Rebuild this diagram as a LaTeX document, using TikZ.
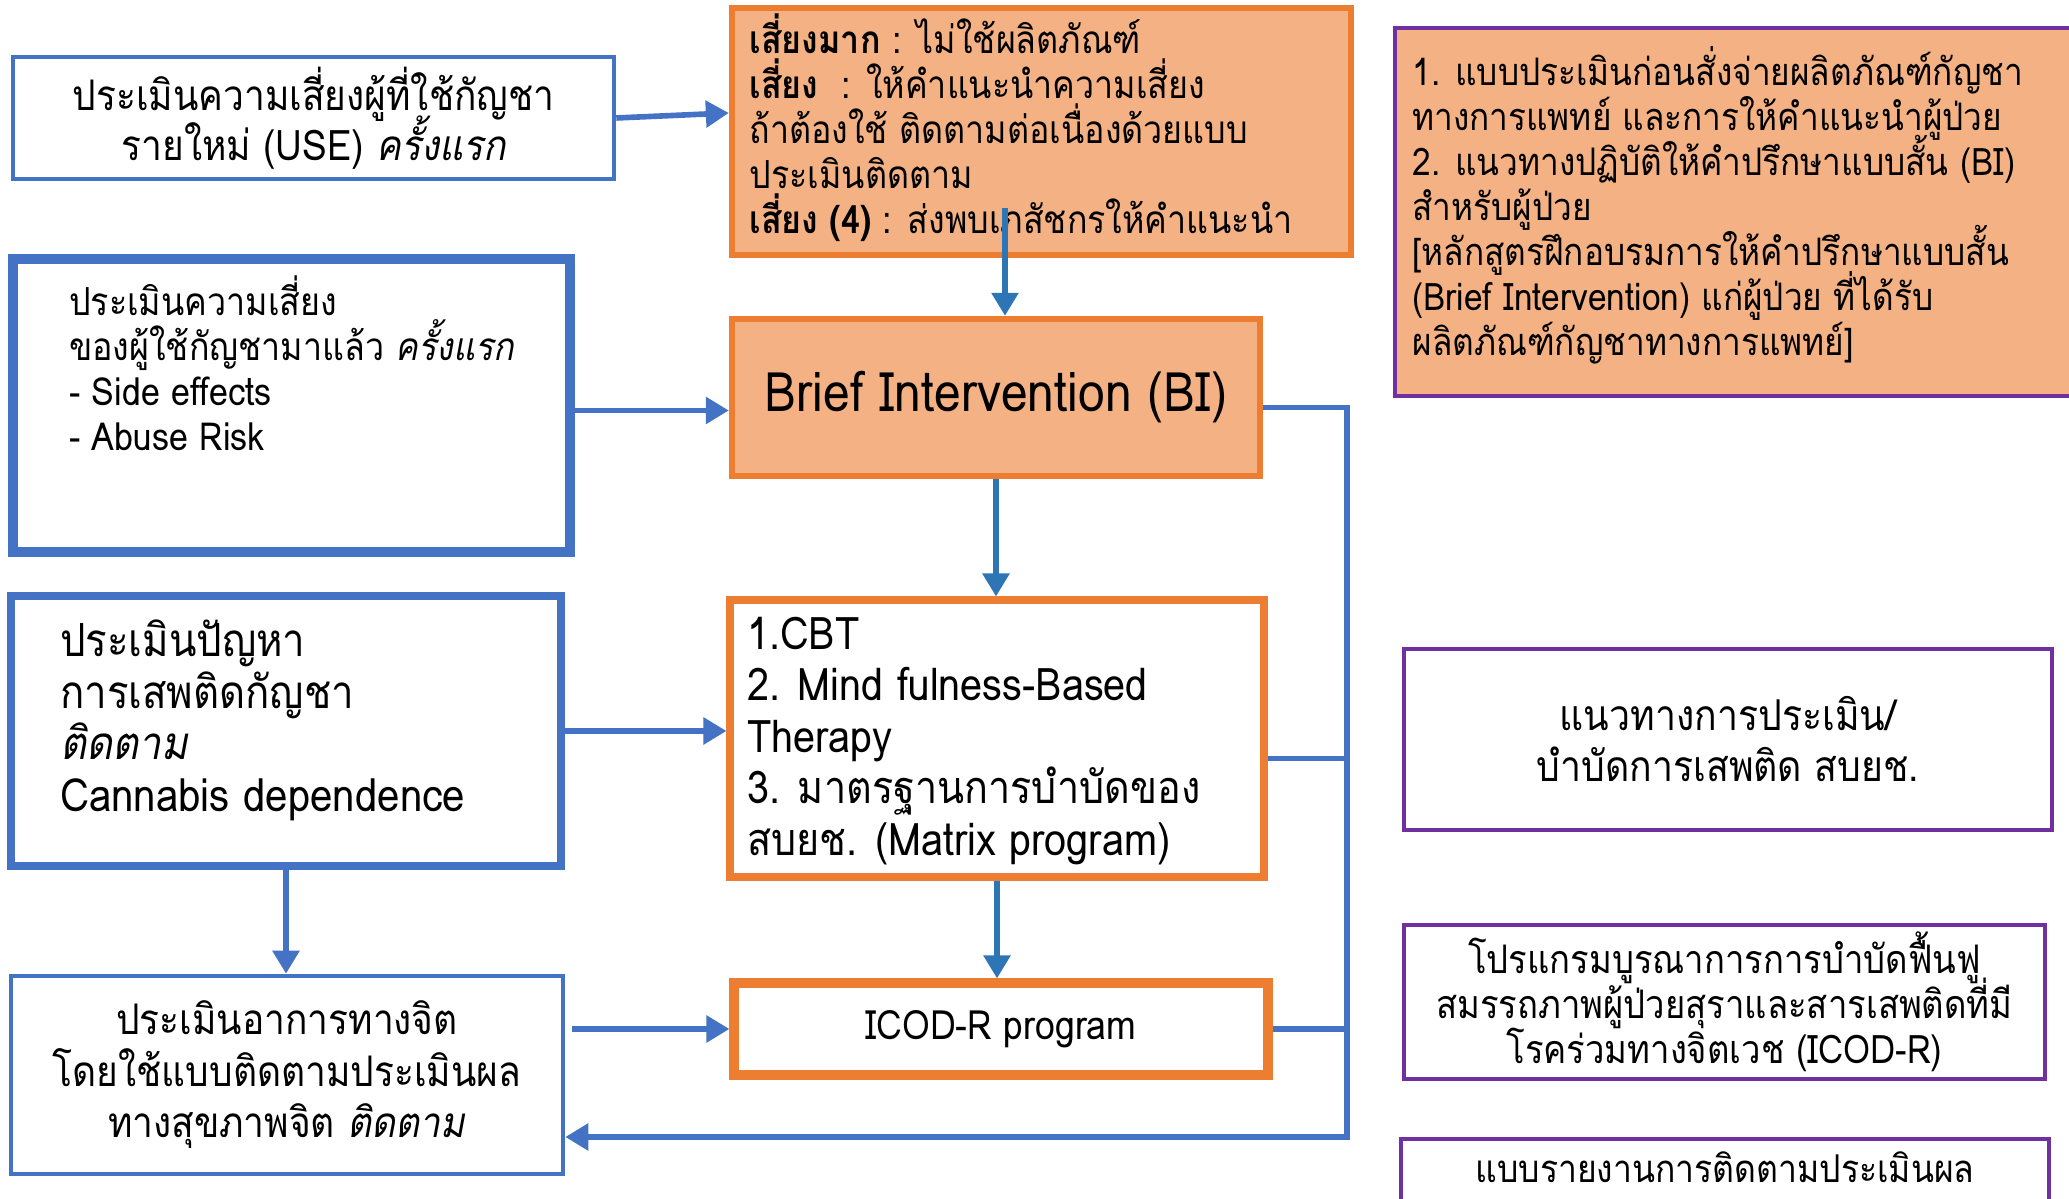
\documentclass[tikz,border=0pt]{standalone}
\usepackage{fontspec}
\setmainfont[Script=Thai, FakeStretch=0.88]{Loma}
\usetikzlibrary{arrows.meta}
\definecolor{boxblue}{RGB}{68,114,196}
\definecolor{arrblue}{RGB}{46,117,182}
\definecolor{boxorange}{RGB}{237,125,49}
\definecolor{fillorange}{RGB}{244,177,131}
\definecolor{boxpurple}{RGB}{112,48,160}
\newcommand{\fsz}[2]{\fontsize{#1}{#2}\selectfont\lineskiplimit=-20pt\relax}

\begin{document}
\begin{tikzpicture}[
    bluebox/.style={draw=boxblue, line width=1.3pt, inner sep=0pt},
    orangebox/.style={draw=boxorange, line width=1.8pt, inner sep=0pt},
    purplebox/.style={draw=boxpurple, line width=1.3pt, inner sep=0pt},
    txt/.style={inner sep=0pt, align=left, anchor=north west},
    arr/.style={draw=boxblue, line width=1.6pt, -{Triangle[length=0.23cm,width=0.26cm]}},
    arrdark/.style={arr, draw=arrblue},
    bus/.style={draw=boxblue, line width=1.6pt}
  ]
  \useasboundingbox (0,0) rectangle (20.69,-11.99);

  % left column
  \node[bluebox, minimum width=6.01cm, minimum height=1.22cm, align=center, font=\fsz{12}{14.2}] (use) at (3.135,-1.18)
    {ประเมินความเสี่ยงผู้ที่ใช้กัญชา\\รายใหม่ (USE) \textit{ครั้งแรก}};
  \node[bluebox, line width=2.6pt, minimum width=5.57cm, minimum height=2.93cm] (prior) at (2.915,-4.055) {};
  \node[txt, font=\fsz{11}{12.8}] (priortxt) at ([shift={(0.6,-0.21)}]prior.north west)
    {ประเมินความเสี่ยง\\ของผู้ใช้กัญชามาแล้ว \textit{ครั้งแรก}\\- Side effects\\- Abuse Risk};
  \node[bluebox, line width=2pt, minimum width=5.5cm, minimum height=2.7cm] (dep) at (2.86,-7.31) {};
  \node[txt, font=\fsz{13}{14.65}] (deptxt) at ([shift={(0.52,-0.27)}]dep.north west)
    {ประเมินปัญหา\\การเสพติดกัญชา\\\textit{ติดตาม}\\Cannabis dependence};
  \node[bluebox, minimum width=5.52cm, minimum height=1.98cm, align=center, font=\fsz{12}{14.65}] (psy) at (2.87,-10.75)
    {ประเมินอาการทางจิต\\โดยใช้แบบติดตามประเมินผล\\ทางสุขภาพจิต \textit{ติดตาม}};

  % middle column
  \node[orangebox, fill=fillorange, minimum width=6.19cm, minimum height=2.47cm] (risk) at (10.415,-1.315) {};
  \node[txt, font=\fsz{11}{12.8}] (risktxt) at ([shift={(0.2,-0.08)}]risk.north west)
    {\textbf{เสี่ยงมาก} : ไม่ใช้ผลิตภัณฑ์\\\textbf{เสี่ยง} \ : ให้คำแนะนำความเสี่ยง\\ถ้าต้องใช้ ติดตามต่อเนื่องด้วยแบบ\\ประเมินติดตาม\\\textbf{เสี่ยง (4)} : ส่งพบเภสัชกรให้คำแนะนำ};
  \node[orangebox, fill=fillorange, minimum width=5.28cm, minimum height=1.57cm, font=\fsz{15.5}{18}] (bi) at (9.96,-3.975)
    {Brief Intervention (BI)};
  \node[orangebox, line width=2pt, minimum width=5.34cm, minimum height=2.77cm] (cbt) at (9.97,-7.385) {};
  \node[txt, font=\fsz{12.8}{14.65}] (cbttxt) at ([shift={(0.2,-0.2)}]cbt.north west)
    {1.CBT\\2. Mind fulness-Based\\Therapy\\3. มาตรฐานการบำบัดของ\\สบยช. (Matrix program)};
  \node[orangebox, line width=2.6pt, minimum width=5.34cm, minimum height=0.92cm, font=\fsz{11.5}{14}] (icod) at (10.01,-10.29)
    {ICOD-R program};

  % right column
  \node[purplebox, fill=fillorange, minimum width=6.85cm, minimum height=3.68cm] (guide) at (17.375,-2.12) {};
  \node[txt, font=\fsz{10.8}{12.8}] (guidetxt) at ([shift={(0.19,-0.2)}]guide.north west)
    {1. แบบประเมินก่อนสั่งจ่ายผลิตภัณฑ์กัญชา\\ทางการแพทย์ และการให้คำแนะนำผู้ป่วย\\2. แนวทางปฏิบัติให้คำปรึกษาแบบสั้น (BI)\\สำหรับผู้ป่วย\\{}[หลักสูตรฝึกอบรมการให้คำปรึกษาแบบสั้น\\(Brief Intervention) แก่ผู้ป่วย ที่ได้รับ\\ผลิตภัณฑ์กัญชาทางการแพทย์]};
  \node[purplebox, minimum width=6.48cm, minimum height=1.81cm, align=center, font=\fsz{12.1}{14.5}] (treat) at (17.28,-7.395)
    {แนวทางการประเมิน/\\บำบัดการเสพติด สบยช.};
  \node[purplebox, minimum width=6.41cm, minimum height=1.54cm, align=center, font=\fsz{11.2}{12.8}] (icodr) at (17.245,-10.02)
    {โปรแกรมบูรณาการการบำบัดฟื้นฟู\\สมรรถภาพผู้ป่วยสุราและสารเสพติดที่มี\\โรคร่วมทางจิตเวช (ICOD-R)};
  \node[purplebox, minimum width=6.48cm, minimum height=1.5cm] (report) at (17.25,-12.14) {};
  \node[inner sep=0pt, font=\fsz{10.9}{14}] (reporttxt) at ([yshift=-0.31cm]report.north)
    {แบบรายงานการติดตามประเมินผล};

  % arrows
  \draw[arr] (use.east) -- ([yshift=0.05cm]use.east -| risk.west);
  \coordinate (riskout) at (10.05,-2.08);
  \draw[arrdark] (riskout) -- (riskout |- bi.north);
  \draw[arr] ([yshift=-0.05cm]prior.east) -- ([yshift=-0.05cm]prior.east -| bi.west);
  \draw[arrdark] (bi.south) -- (bi.south |- cbt.north);
  \draw[arr] (dep.east) -- (dep.east -| cbt.west);
  \draw[arrdark] (cbt.south) -- (cbt.south |- icod.north);
  \draw[arr] (dep.south) -- (dep.south |- psy.north);
  \draw[arr] ([xshift=0.07cm]psy.east |- icod.west) -- (icod.west);
  % return line on the right
  \coordinate (bus) at (13.47,-11.37);
  \draw[arr] ([yshift=-0.1cm]bi.east) -| (bus) -- (bus -| psy.east);
  \draw[bus] ([yshift=-0.2cm]cbt.east) -- ([yshift=-0.2cm]cbt.east -| bus);
  \draw[bus] (icod.east) -- (icod.east -| bus);
\end{tikzpicture}
\end{document}
